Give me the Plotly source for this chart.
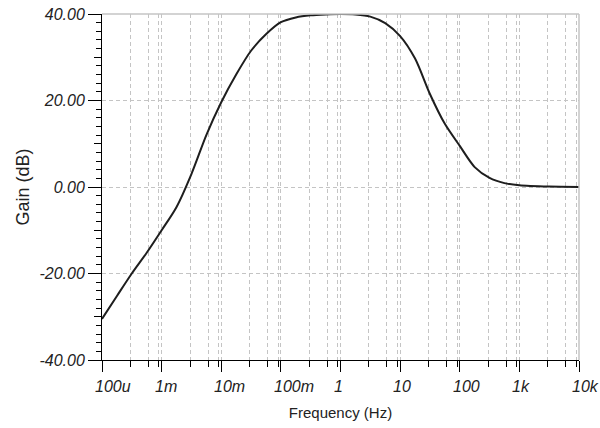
"""Bode gain plot, TINA-style."""
import math

import plotly.graph_objects as go

# Frequency response
FREQ_HZ = [1e-4, 1.78e-4, 3.16e-4, 5.62e-4, 1e-3, 1.78e-3, 3.16e-3, 5.62e-3,
           1e-2, 1.78e-2, 3.16e-2, 5.62e-2, 0.1, 0.178, 0.316, 0.562,
           1, 1.78, 3.16, 5.62, 10, 17.8, 31.6, 56.2,
           100, 178, 316, 562, 1e3, 3.16e3, 1e4]
GAIN_DB = [-30.5, -25.2, -20.0, -15.2, -10.0, -4.6, 3.0, 12.0,
           19.6, 26.0, 31.5, 35.3, 38.1, 39.2, 39.7, 39.9,
           40.0, 39.9, 39.4, 37.9, 34.9, 29.7, 21.5, 14.6,
           9.5, 4.6, 2.1, 0.9, 0.4, 0.1, 0.0]

X_TICKS = [1e-4, 1e-3, 1e-2, 1e-1, 1, 10, 100, 1e3, 1e4]
X_LABELS = ["100u", "1m", "10m", "100m", "1", "10", "100", "1k", "10k"]
X_MINOR = [m * 10.0 ** d for d in range(-4, 4) for m in (3, 6, 9)]

Y_TICKS = [-40, -20, 0, 20, 40]
Y_LABELS = ["-40.00", "-20.00", "0.00", "20.00", "40.00"]
Y_MID = [-30, -10, 10, 30]
Y_MINOR = list(range(-38, 40, 2))

FONT = "Liberation Sans, Arial, sans-serif"
GRID = "#c4c4c4"
DASH = "4px,3px"

fig = go.Figure()
fig.add_scatter(x=FREQ_HZ, y=GAIN_DB, mode="lines",
                line=dict(color="#1e1e1e", width=2, shape="spline", smoothing=0.8),
                hoverinfo="x+y", showlegend=False)
# invisible twin so the medium y ticks get their own axis
fig.add_scatter(x=FREQ_HZ, y=GAIN_DB, mode="lines", yaxis="y2",
                line=dict(width=0), hoverinfo="skip", showlegend=False)

fig.update_layout(
    width=600, height=428,
    font=dict(family=FONT, color="#222"),
    paper_bgcolor="white", plot_bgcolor="white",
    margin=dict(l=102, r=21, t=14, b=68, autoexpand=False),
    xaxis=dict(
        type="log", range=[-4, 4], tickmode="array", tickvals=X_TICKS,
        showticklabels=False, ticks="outside", ticklen=11, tickcolor="black",
        showline=True, linecolor="black", linewidth=1,
        showgrid=True, gridcolor=GRID, griddash=DASH, gridwidth=1,
        minor=dict(tickmode="array", tickvals=X_MINOR, ticks="outside", ticklen=6,
                   tickcolor="black", showgrid=True, gridcolor=GRID, griddash=DASH),
        title=dict(text="Frequency (Hz)", font=dict(size=15), standoff=36),
        zeroline=False, automargin=False,
    ),
    yaxis=dict(
        range=[-40, 40], tickmode="array", tickvals=Y_TICKS, ticktext=Y_LABELS,
        ticks="outside", ticklen=13, tickcolor="black",
        tickfont=dict(size=16, style="italic"),
        showline=True, linecolor="black", linewidth=1,
        showgrid=True, gridcolor=GRID, griddash=DASH, zeroline=False,
        minor=dict(tickmode="array", tickvals=Y_MINOR, ticks="outside", ticklen=5,
                   tickcolor="black", showgrid=False),
        title=dict(text="Gain (dB)", font=dict(size=18), standoff=5),
        automargin=False,
    ),
    yaxis2=dict(
        overlaying="y", side="left", anchor="x", range=[-40, 40],
        tickmode="array", tickvals=Y_MID, ticks="outside", ticklen=7,
        tickcolor="black", showticklabels=False, showgrid=False, zeroline=False,
        automargin=False,
    ),
    shapes=[
        dict(type="line", xref="paper", yref="paper", x0=0, x1=1, y0=1, y1=1,
             line=dict(color=GRID, width=1.5)),
        dict(type="line", xref="paper", yref="paper", x0=1, x1=1, y0=0, y1=1,
             line=dict(color=GRID, width=1.5)),
    ],
)

# x tick labels, left-anchored just before each decade tick
for f, lab in zip(X_TICKS, X_LABELS):
    fig.add_annotation(x=math.log10(f), y=0, xref="x", yref="paper", text=lab,
                       showarrow=False, xanchor="left", yanchor="top",
                       xshift=-9, yshift=-16,
                       font=dict(size=16, style="italic", family=FONT, color="#222"))

# drop the browser's default 8px body margin so the figure sits at the corner
fig.write_html("out.html", config={"displayModeBar": False},
               post_script="document.body.style.margin = '0';")
